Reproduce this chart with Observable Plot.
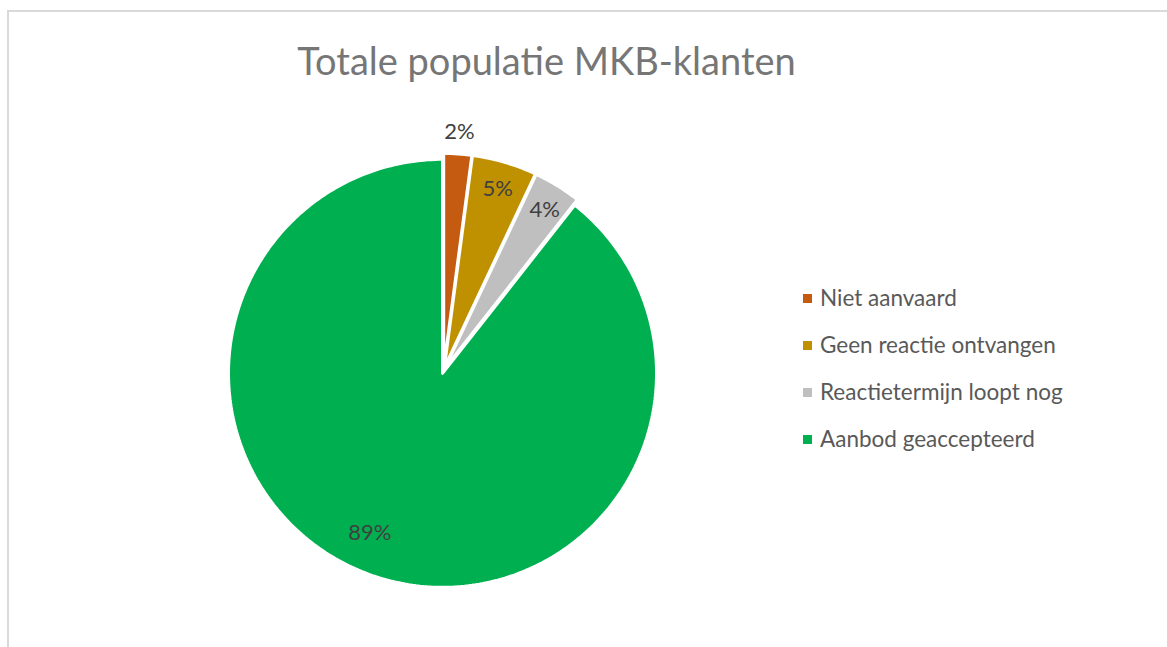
<!DOCTYPE html>
<html>
<head>
<meta charset="utf-8">
<script src="https://cdn.jsdelivr.net/npm/d3@7"></script>
<script src="https://cdn.jsdelivr.net/npm/@observablehq/plot@0.6"></script>
<style>
  html, body { margin: 0; padding: 0; background: #fff; overflow: hidden; }
  #wrap { position: relative; width: 1167px; height: 647px; overflow: hidden; font-family: Lato, "Open Sans", sans-serif; }
  #border { position: absolute; left: 7px; top: 10px; width: 1300px; height: 800px; border: 2px solid #d9d9d9; box-sizing: border-box; }
  #title { position: absolute; left: 0; width: 1093px; top: 37px; text-align: center; font-size: 38px; color: #767676; white-space: nowrap; }
  #legend { position: absolute; left: 803px; top: 283.5px; }
  .item { position: relative; height: 47.3px; font-size: 22.5px; line-height: 27px; color: #595959; white-space: nowrap; }
  .sw { position: absolute; left: 0; top: 10px; width: 9px; height: 9px; }
  .lab { position: absolute; left: 17px; top: 0; }
  #chart { position: absolute; left: 0; top: 0; }
</style>
</head>
<body>
<div id="wrap">
  <div id="border"></div>
  <div id="chart"></div>
  <div id="title"></div>
  <div id="legend"></div>
</div>
<script>
const title = "Totale populatie MKB-klanten";
const categories = ["Niet aanvaard", "Geen reactie ontvangen", "Reactietermijn loopt nog", "Aanbod geaccepteerd"];
const values = [2.1, 4.9, 3.6, 89.4];
const labels = ["2%", "5%", "4%", "89%"];
const colors = ["#C55A11", "#BF9000", "#BFBFBF", "#00B050"];

const W = 1167, H = 647;
const cx = 443, cy = 370, R = 214;   // pie centre and radius in pixels
const explode = 3 / R;               // slice offset, in radius units

const total = d3.sum(values);
const polys = [];
const labelPts = [];
let acc = 0;
values.forEach((v, i) => {
  const a0 = acc / total * 2 * Math.PI;
  acc += v;
  const a1 = acc / total * 2 * Math.PI;
  const mid = (a0 + a1) / 2;
  const ox = explode * Math.sin(mid), oy = explode * Math.cos(mid);
  const n = Math.max(4, Math.ceil((a1 - a0) / (2 * Math.PI) * 360));
  polys.push({cat: categories[i], x: ox, y: oy, k: 0});
  for (let j = 0; j <= n; j++) {
    const a = a0 + (a1 - a0) * j / n;
    polys.push({cat: categories[i], x: ox + Math.sin(a), y: oy + Math.cos(a), k: j + 1});
  }
  polys.push({cat: categories[i], x: ox, y: oy, k: n + 2});
  // label placement (Excel best-fit style)
  let r = 0.9, la = mid;
  if (v / total < 0.03) r = 1.13;
  if (v / total > 0.5) { r = 0.82; la = mid + 0.1; }
  labelPts.push({text: labels[i], x: r * Math.sin(la), y: r * Math.cos(la)});
});

const chart = Plot.plot({
  width: W,
  height: H,
  margin: 0,
  x: {domain: [-cx / R, (W - cx) / R], range: [0, W], axis: null},
  y: {domain: [-(H - cy) / R, cy / R], range: [H, 0], axis: null},
  color: {domain: categories, range: colors},
  style: {background: "transparent"},
  marks: [
    Plot.line(polys, {x: "x", y: "y", z: "cat", fill: "cat", stroke: "white", strokeWidth: 3, strokeLinejoin: "miter", curve: "linear"}),
    Plot.text(labelPts, {x: "x", y: "y", text: "text", dy: 3, fill: "#404040", fontSize: 22, fontFamily: "Lato, 'Open Sans', sans-serif"})
  ]
});
document.getElementById("chart").appendChild(chart);
document.getElementById("title").textContent = title;

const leg = document.getElementById("legend");
categories.forEach((c, i) => {
  const d = document.createElement("div");
  d.className = "item";
  d.innerHTML = `<span class="sw" style="background:${colors[i]}"></span><span class="lab">${c}</span>`;
  leg.appendChild(d);
});
</script>
</body>
</html>
